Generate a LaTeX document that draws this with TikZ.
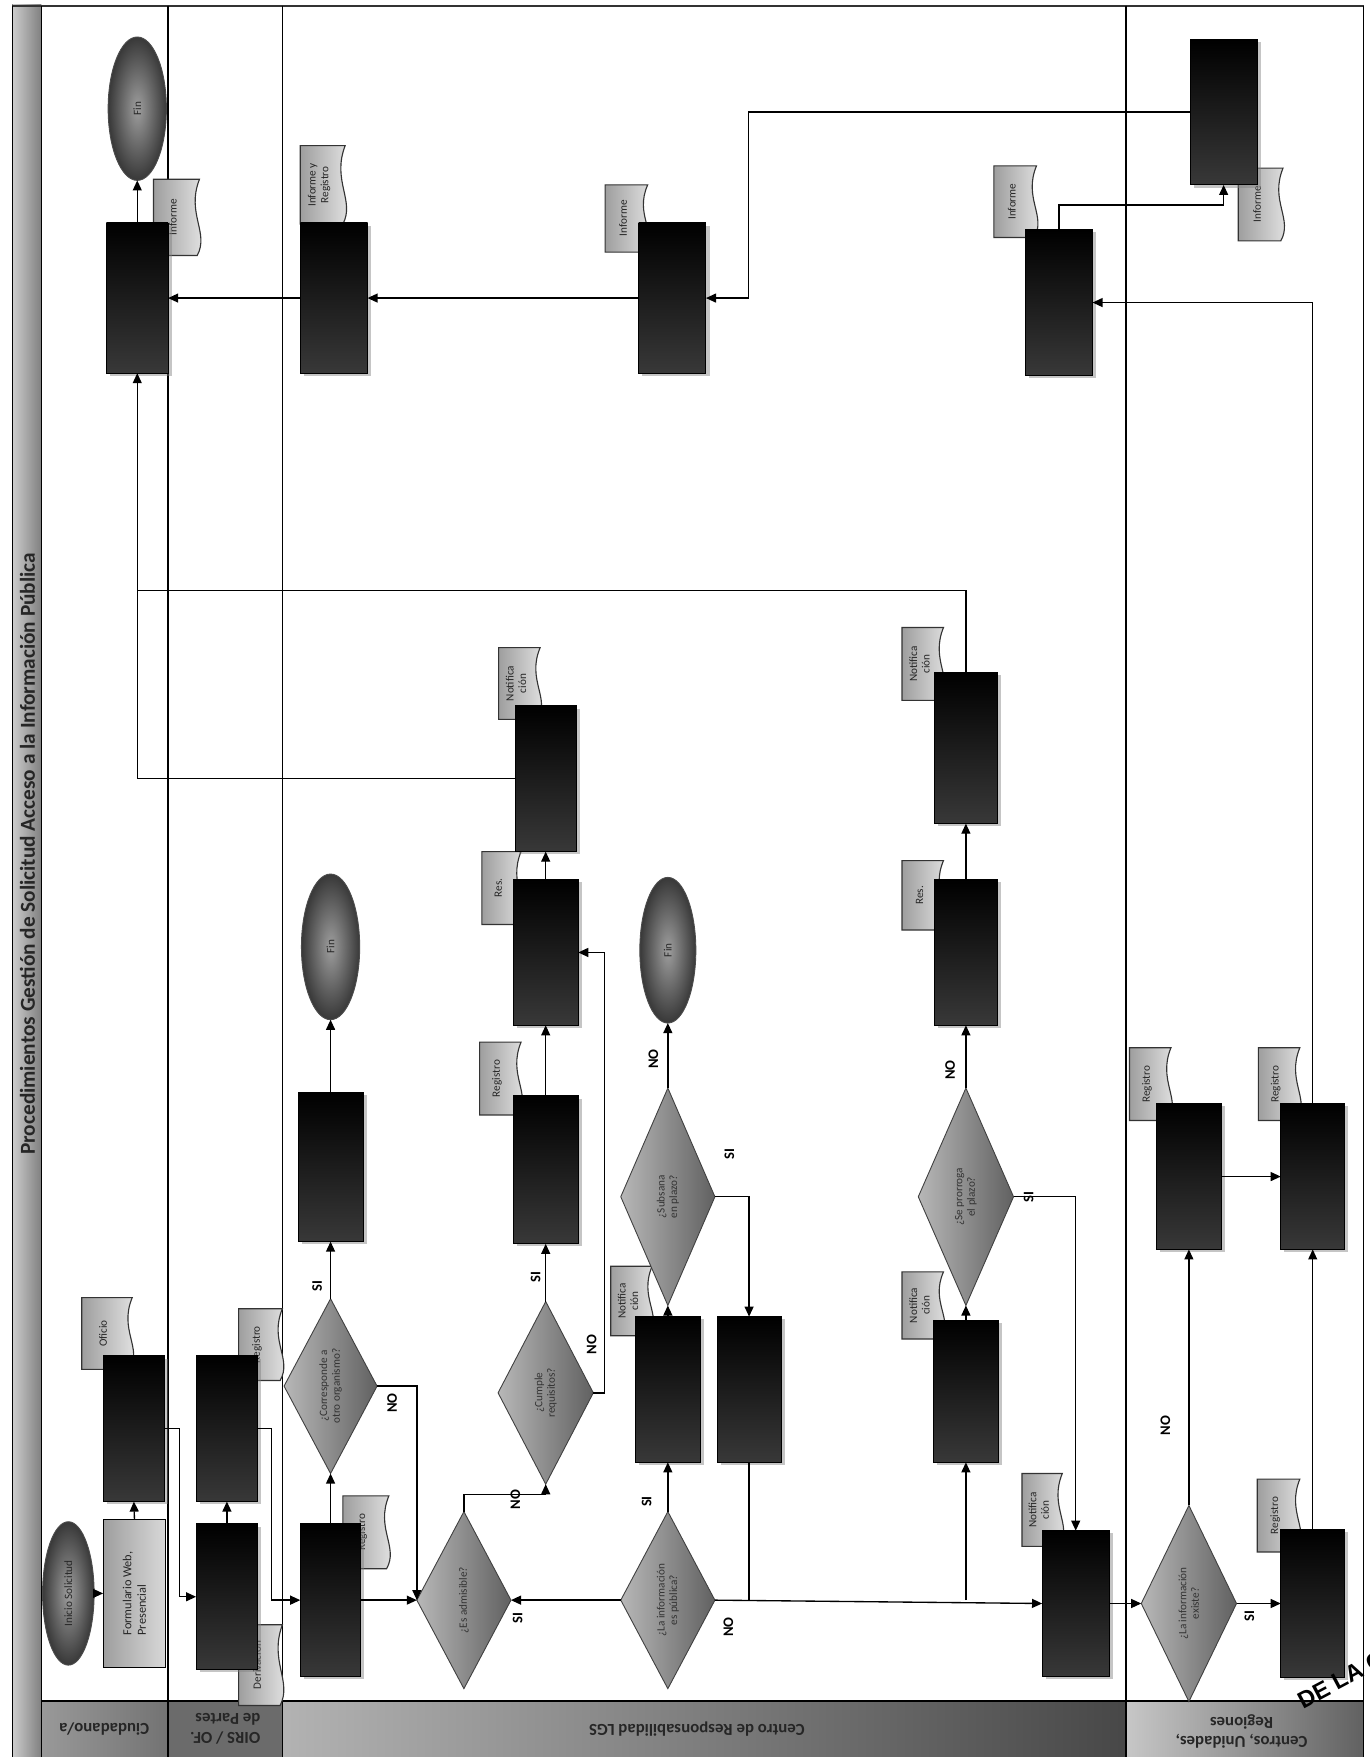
\documentclass[tikz,border=0pt]{standalone}
\usepackage{fontspec}
\setmainfont{Carlito}
\newfontfamily\stampfont{Liberation Sans}
\usetikzlibrary{arrows.meta,shapes.geometric,shadows}
\tikzset{
  bbox/.style={draw=black, top color=black, bottom color=black!78, inner sep=0pt, outer sep=0pt,
     drop shadow={shadow xshift=1.6pt, shadow yshift=-1.2pt, opacity=0.45}},
  lbox/.style={draw=black, left color=black!38, right color=black!15, inner sep=0pt, outer sep=0pt},
  dia/.style={diamond, draw=black!75, left color=black!28, right color=black!62, inner sep=0pt, outer sep=0pt},
  ell/.style={ellipse, draw=black!70, inner color=black!38, outer color=black!78, inner sep=0pt, outer sep=0pt},
  rtext/.style={rotate=90, font=\fontsize{5}{5.6}\selectfont, align=center, text=black!85, inner sep=0pt},
  yn/.style={rotate=90, font=\bfseries\fontsize{6.5}{7}\selectfont, inner sep=0pt},
  docs/.style={draw=black!80, left color=black!38, right color=black!8, line width=0.5pt},
  ln/.style={line width=0.6pt, draw=black},
  arr/.style={ln, -{Triangle[length=4.5pt,width=4pt]}},
  lanelbl/.style={rotate=180, font=\bfseries\fontsize{7.5}{8.5}\selectfont, text=black!85, inner sep=0pt},
}
\newcommand{\mkbox}[5]{\node[bbox, minimum width={(#4-#2)*0.5pt}, minimum height={(#5-#3)*0.5pt}] (#1) at ({(#2+#4)/2},{(#3+#5)/2}) {};}
\newcommand{\mkdia}[6]{\node[dia, minimum width={#4*0.5pt}, minimum height={#5*0.5pt}] (#1) at (#2,#3) {};
  \node[rtext, text=black!80] (#1t) at (#2,#3) {#6};}
\newcommand{\mkell}[6]{\node[ell, minimum width={#4*0.5pt}, minimum height={#5*0.5pt}] (#1) at (#2,#3) {};
  \node[rtext] (#1t) at (#2,#3) {#6};}
\newcommand{\mkdoc}[6]{\path[docs] (#2,#3) -- (#4,#3) .. controls ({#4-12},{#3+(#5-#3)*0.45}) and ({#4+9},{#3+(#5-#3)*0.7}) .. ({#4-2},#5) -- (#2,#5) -- cycle;
  \node[rtext] (#1) at ({#2+(#4-#2)*0.42},{(#3+#5)/2}) {#6};}
\begin{document}
\begin{tikzpicture}[x=0.5pt,y=-0.5pt]
\useasboundingbox (0,0) rectangle (1222,1568);
\fill[white] (0,0) rectangle (1222,1568);
% title strip
\fill[left color=black!20, right color=black!50] (11,4) rectangle (37,1568);
\node[rotate=90, font=\bfseries\fontsize{9.5}{10}\selectfont, text=black!85] (title) at (24.5,762) {Procedimientos Gestión de Solicitud Acceso a la Información Pública};
% lane label band
\fill[left color=black!40, right color=black!55] (37,1518) rectangle (150,1568);
\fill[black!58] (150,1518) rectangle (252,1568);
\fill[left color=black!30, right color=black!72] (252,1518) rectangle (1005,1568);
\fill[left color=black!22, right color=black!62] (1005,1518) rectangle (1217,1568);
\draw[line width=0.9pt, black!80] (11,5) -- (1217,5);
\draw[line width=0.7pt] (11,5) -- (11,1568);
\draw[line width=0.7pt] (37,5) -- (37,1568);
\draw[line width=0.6pt] (150,5) -- (150,1568);
\draw[line width=0.6pt] (252,5) -- (252,1568);
\draw[line width=0.6pt] (1005,5) -- (1005,1568);
\draw[line width=0.7pt] (1217,5) -- (1217,1568);
\draw[line width=0.7pt] (37,1518) -- (1217,1518);
\node[lanelbl] (l1) at (93,1543) {Ciudadano/a};
\node[lanelbl, align=left] (l2) at (201,1543) {OIRS / OF.\\de Partes};
\node[lanelbl] (l3) at (622,1543) {Centro de Responsabilidad LGS};
\node[lanelbl, align=center] (l4) at (1108,1545) {Centros, Unidades,\\Regiones};
% documents
\mkdoc{dB1}{73}{1158}{118}{1222}{Oficio}
\mkdoc{dBtop}{137}{160}{178}{228}{Informe}
\mkdoc{dO1}{213}{1168}{252}{1232}{Registro}
\mkdoc{dO2}{213}{1450}{252}{1522}{Derivación}
\mkdoc{dC1}{306}{1335}{347}{1400}{Registro}
\mkdoc{dC3}{428}{930}{465}{995}{Registro}
\mkdoc{dC4}{430}{760}{465}{825}{Res.}
\mkdoc{dC5}{445}{578}{482}{642}{Notifica\\ción}
\mkdoc{dC6}{545}{1130}{582}{1192}{Notifica\\ción}
\mkdoc{dC9}{805}{1135}{842}{1195}{Notifica\\ción}
\mkdoc{dC10}{805}{768}{842}{830}{Res.}
\mkdoc{dC11}{805}{560}{842}{625}{Notifica\\ción}
\mkdoc{dC8}{912}{1315}{948}{1380}{Notifica\\ción}
\mkdoc{dC12}{1122}{1320}{1160}{1385}{Registro}
\mkdoc{dC13}{1008}{935}{1045}{1000}{Registro}
\mkdoc{dC14}{1123}{935}{1160}{1000}{Registro}
\mkdoc{dC15}{887}{148}{925}{212}{Informe}
\mkdoc{dC16}{1105}{150}{1145}{215}{Informe}
\mkdoc{dC17}{540}{165}{578}{225}{Informe}
\mkdoc{dC18}{268}{130}{308}{200}{Informe y\\Registro}
% process boxes
\mkbox{Btop}{95}{199}{150}{333}
\mkbox{B1}{92}{1210}{147}{1340}
\mkbox{O1}{175}{1210}{230}{1340}
\mkbox{O2}{175}{1360}{230}{1490}
\mkbox{C1}{268}{1360}{322}{1496}
\mkbox{C2}{266}{975}{324}{1108}
\mkbox{C3}{458}{978}{516}{1110}
\mkbox{C4}{458}{785}{516}{915}
\mkbox{C5}{460}{630}{514}{760}
\mkbox{C6}{567}{1175}{625}{1305}
\mkbox{C7}{640}{1175}{697}{1305}
\mkbox{C8}{930}{1366}{990}{1496}
\mkbox{C9}{833}{1178}{891}{1305}
\mkbox{C10}{834}{785}{890}{915}
\mkbox{C11}{834}{600}{890}{735}
\mkbox{C12}{1143}{1365}{1200}{1497}
\mkbox{C13}{1032}{985}{1090}{1115}
\mkbox{C14}{1143}{985}{1200}{1115}
\mkbox{C15}{915}{205}{975}{335}
\mkbox{C16}{1062}{35}{1122}{165}
\mkbox{C17}{570}{199}{630}{333}
\mkbox{C18}{268}{199}{328}{333}
\node[lbox, minimum width=28pt, minimum height=66pt] (Lb) at (120,1422) {};
\node[rtext, align=left, font=\fontsize{5.5}{6.5}\selectfont] (Lbt) at (120,1422) {Formulario Web,\\Presencial};
% decisions
\mkdia{D1}{295}{1237}{83}{156}{¿Corresponde a\\otro organismo?}
\mkdia{D2}{414}{1428}{84}{158}{¿Es admisible?}
\mkdia{D3}{487}{1243}{85}{163}{¿Cumple\\requisitos?}
\mkdia{D4}{596}{1428}{84}{158}{¿La información\\es pública?}
\mkdia{D5}{596}{1068}{84}{194}{¿Subsana\\en plazo?}
\mkdia{D6}{862}{1068}{85}{194}{¿Se prorroga\\el plazo?}
\mkdia{D7}{1061}{1431}{85}{175}{¿La información\\existe?}
% terminals
\mkell{startE}{61}{1422}{46}{128}{Inicio Solicitud}
\mkell{finE1}{122.5}{97}{52}{128}{Fin}
\mkell{finE2}{295}{845}{52}{130}{Fin}
\mkell{finE3}{596}{848}{50}{130}{Fin}
% joints
\coordinate (j1) at (122.5,527);
\coordinate (j2) at (862,1428);
\coordinate (k1) at (668,100);
% connectors
\draw[arr] (startE.east) -- (Lb.west);
\draw[arr] (Lb.north) -- (B1.south);
\draw[arr] (B1.east) -- ++(13,0) |- (O2.west);
\draw[arr] (O2.north) -- (O1.south);
\draw[arr] (O1.east) -- ++(12,0) |- (C1.west);
\draw[arr] (C1.north) -- (D1.south);
\draw[arr] (D1.north) -- (C2.south);
\draw[arr] (C2.north) -- (finE2.south);
\draw[arr] (D1.east) -| (D2.west);
\draw[arr] (C1.east) -- (D2.west);
\draw[arr] (D2.north) -- ++(0,-15) -| (D3.south);
\draw[arr] (D3.north) -- (C3.south);
\draw[arr] (C3.north) -- (C4.south);
\draw[arr] (C4.north) -- (C5.south);
\draw[arr] (D3.east) -- ++(10,0) |- (C4.east);
\draw[arr] (C5.west) -| (Btop.south);
\draw[ln] (C11.north) |- (j1);
\draw[arr] (D4.west) -- (D2.east);
\draw[arr] (D4.north) -- (C6.south);
\draw[arr] (C6.north) -- (D5.south);
\draw[arr] (D5.north) -- (finE3.south);
\draw[arr] (D5.east) -| (C7.north);
\draw[ln] (C7.south) -- (C7.south |- D4.east);
\draw[arr] (D4.east) -- (C8.west);
\draw[arr] (j2) -- (C9.south);
\draw[arr] (C9.north) -- (D6.south);
\draw[arr] (D6.north) -- (C10.south);
\draw[arr] (C10.north) -- (C11.south);
\draw[arr] (D6.east) -| (C8.north);
\draw[arr] (C8.east) -- (D7.west);
\draw[arr] (D7.east) -- (C12.west);
\draw[arr] (D7.north) -- (C13.south);
\draw[arr] (C12.north) -- (C14.south);
\draw[arr] (C13.east) -- (C14.west);
\draw[arr] (C14.north) |- (C15.east);
\draw[arr] (C15.north) -- ++(0,-22) -| (C16.south);
\draw[arr] (C16.west) -- (k1) |- (C17.east);
\draw[arr] (C17.west) -- (C18.east);
\draw[arr] (C18.west) -- (Btop.east);
\draw[arr] (Btop.north) -- (finE1.south);
% yes/no labels
\node[yn] (y1) at (283,1148) {SI};
\node[yn] (n1) at (350,1252) {NO};
\node[yn] (n2) at (460,1338) {NO};
\node[yn] (y2) at (462,1444) {SI};
\node[yn] (y3) at (478,1140) {SI};
\node[yn] (n3) at (528,1200) {NO};
\node[yn] (y4) at (577,1340) {SI};
\node[yn] (n4) at (650,1452) {NO};
\node[yn] (n5) at (583,945) {NO};
\node[yn] (y5) at (651,1030) {SI};
\node[yn] (n6) at (848,955) {NO};
\node[yn] (y6) at (918,1068) {SI};
\node[yn] (y7) at (1115,1442) {SI};
\node[yn] (n7) at (1040,1272) {NO};
% stamp
\node[rotate=28, anchor=south west, font=\stampfont\bfseries\fontsize{10.5}{10.5}\selectfont, inner sep=0pt] (stamp) at (1163,1526) {DE LA C};
\end{tikzpicture}
\end{document}
